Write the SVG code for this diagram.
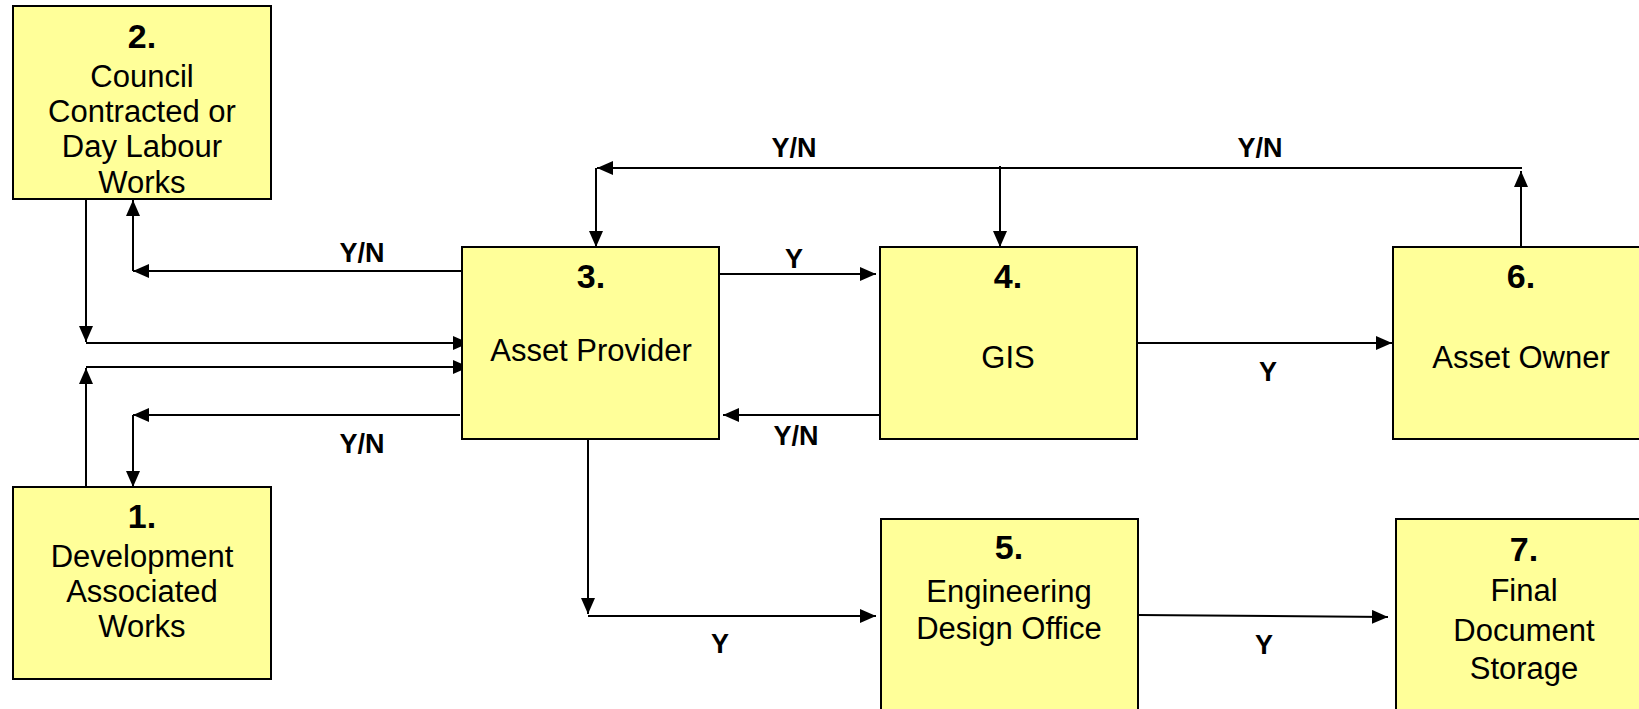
<svg xmlns="http://www.w3.org/2000/svg" width="1639" height="709" viewBox="0 0 1639 709">
<style>
.box{fill:#FFFF99;stroke:#000;stroke-width:2}
.num{font-family:"Liberation Sans",Arial,sans-serif;font-weight:bold;font-size:34px;text-anchor:middle;fill:#000}
.txt{font-family:"Liberation Sans",Arial,sans-serif;font-size:31px;text-anchor:middle;fill:#000}
.lbl{font-family:"Liberation Sans",Arial,sans-serif;font-weight:bold;font-size:27px;text-anchor:middle;fill:#000}
.ln{fill:none;stroke:#000;stroke-width:2}
.ar{marker-end:url(#ah)}
</style>
<defs>
<marker id="ah" viewBox="0 0 16 14" refX="16" refY="7" markerWidth="16" markerHeight="14" markerUnits="userSpaceOnUse" orient="auto">
<path d="M0,0 L16,7 L0,14 Z" fill="#000"/>
</marker>
</defs>
<rect width="1639" height="709" fill="#fff"/>
<g id="connectors">
<path class="ln ar" d="M86,199 V342"/>
<path class="ln ar" d="M86,343 H469"/>
<path class="ln ar" d="M86,487 V368"/>
<path class="ln ar" d="M86,367 H469"/>
<path class="ln ar" d="M462,271 H133"/>
<path class="ln ar" d="M133,271 V200"/>
<path class="ln ar" d="M460,415 H133"/>
<path class="ln ar" d="M133,415 V487"/>
<path class="ln ar" d="M719,274 H876"/>
<path class="ln ar" d="M880,415 H723"/>
<path class="ln ar" d="M1137,343 H1392"/>
<path class="ln ar" d="M1521,247 V171"/>
<path class="ln ar" d="M1522,168 H597"/>
<path class="ln ar" d="M596,168 V247"/>
<path class="ln ar" d="M1000,166 V247"/>
<path class="ln ar" d="M588,439 V614"/>
<path class="ln ar" d="M588,616 H876"/>
<path class="ln ar" d="M1138,615 L1388,617"/>
<text class="lbl" x="794" y="157">Y/N</text>
<text class="lbl" x="1260" y="157">Y/N</text>
<text class="lbl" x="362" y="262">Y/N</text>
<text class="lbl" x="362" y="453">Y/N</text>
<text class="lbl" x="794" y="268">Y</text>
<text class="lbl" x="796" y="445">Y/N</text>
<text class="lbl" x="1268" y="381">Y</text>
<text class="lbl" x="720" y="653">Y</text>
<text class="lbl" x="1264" y="654">Y</text>
</g>
<g id="node2">
<rect class="box" x="13" y="6" width="258" height="193"/>
<text class="num" x="142" y="48">2.</text>
<text class="txt" x="142" y="87">Council</text>
<text class="txt" x="142" y="122">Contracted or</text>
<text class="txt" x="142" y="157">Day Labour</text>
<text class="txt" x="142" y="193">Works</text>
</g>
<g id="node1">
<rect class="box" x="13" y="487" width="258" height="192"/>
<text class="num" x="142" y="528">1.</text>
<text class="txt" x="142" y="567">Development</text>
<text class="txt" x="142" y="602">Associated</text>
<text class="txt" x="142" y="637">Works</text>
</g>
<g id="node3">
<rect class="box" x="462" y="247" width="257" height="192"/>
<text class="num" x="591" y="288">3.</text>
<text class="txt" x="591" y="361">Asset Provider</text>
</g>
<g id="node4">
<rect class="box" x="880" y="247" width="257" height="192"/>
<text class="num" x="1008" y="288">4.</text>
<text class="txt" x="1008" y="368">GIS</text>
</g>
<g id="node6">
<rect class="box" x="1393" y="247" width="257" height="192"/>
<text class="num" x="1521" y="288">6.</text>
<text class="txt" x="1521" y="368">Asset Owner</text>
</g>
<g id="node5">
<rect class="box" x="881" y="519" width="257" height="200"/>
<text class="num" x="1009" y="559">5.</text>
<text class="txt" x="1009" y="602">Engineering</text>
<text class="txt" x="1009" y="639">Design Office</text>
</g>
<g id="node7">
<rect class="box" x="1396" y="519" width="257" height="200"/>
<text class="num" x="1524" y="561">7.</text>
<text class="txt" x="1524" y="601">Final</text>
<text class="txt" x="1524" y="641">Document</text>
<text class="txt" x="1524" y="679">Storage</text>
</g>
</svg>
